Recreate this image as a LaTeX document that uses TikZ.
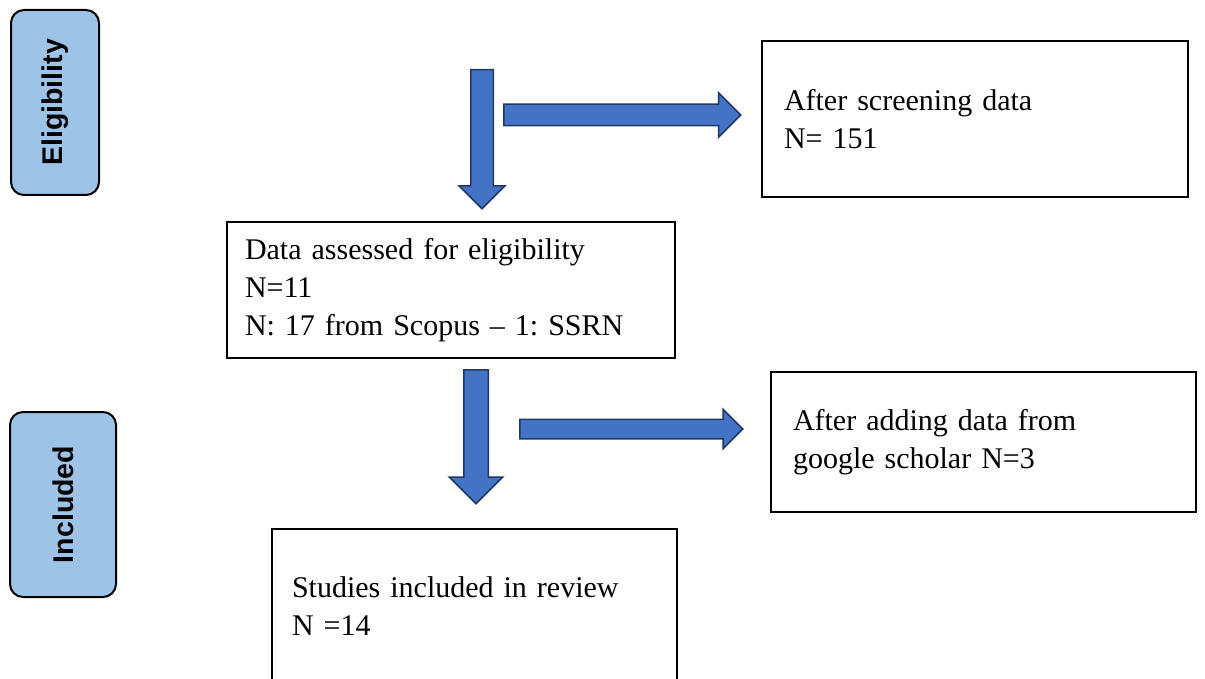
\documentclass[tikz,border=0pt]{standalone}
\usepackage{fontspec}
\setmainfont{Liberation Serif}
\newfontfamily\stagefont{Liberation Sans}
\usetikzlibrary{shapes.arrows}
\definecolor{ArrowFill}{HTML}{4472C4}
\definecolor{ArrowLine}{HTML}{1F3864}
\definecolor{StageFill}{HTML}{9DC3E6}

\begin{document}
\begin{tikzpicture} [
    x=0.5pt, y=-0.5pt,
    B/.style = {draw, line width=1pt, fill=white, align=left, font=\fontsize{15}{19}\selectfont\frenchspacing},
    S/.style = {draw, line width=1pt, fill=StageFill, rounded corners=6.5pt, rotate=90, inner sep=0pt,
                font=\stagefont\bfseries\fontsize{14.25}{17}\selectfont},
    A/.style = {single arrow, draw=ArrowLine, fill=ArrowFill, line width=0.75pt, inner xsep=0pt, anchor=tail}
    ]

  \useasboundingbox (0,0) rectangle (1205,679);

  %%% STAGES %%%
  \node[S, minimum width=92.5pt, minimum height=44pt] (eligibility) at (55,102.5) {Eligibility};
  \node[S, minimum width=92.5pt, minimum height=53pt] (included) at (63,504.5) {Included};

  %%% SCREENED %%%
  \node[B, text width=191pt, inner xsep=11pt, minimum height=78pt] (screened) at (975,119)
    {After screening data\\N= 151};

  %%% ASSESSED %%%
  \node[B, text width=206pt, inner xsep=9pt, minimum height=68pt] (assessed) at (451,290)
    {Data assessed for eligibility\\N=11\\N: 17 from Scopus -- 1: SSRN};

  %%% SCHOLAR %%%
  \node[B, text width=190.5pt, inner xsep=11pt, minimum height=70pt] (scholar) at (983.5,442)
    {After adding data from\\google scholar N=3};

  %%% STUDIES %%%
  \node[B, text width=182.5pt, inner xsep=10pt, minimum height=77pt] (studies) at (474.5,606)
    {Studies included in review\\N =14};

  % Block arrows
  \node[A, rotate=-90, inner ysep=5.25pt, minimum height=69.5pt, minimum width=22pt, single arrow head extend=5.75pt] (down1) at (482,69) {};
  \node[A, inner ysep=5pt, minimum height=118.5pt, minimum width=21.5pt, single arrow head extend=5.75pt] (right1) at (503,115) {};
  \node[A, rotate=-90, inner ysep=5.75pt, minimum height=67pt, minimum width=26pt, single arrow head extend=7.25pt] (down2) at (476,369) {};
  \node[A, inner ysep=4.5pt, minimum height=111.5pt, minimum width=19pt, single arrow head extend=5pt] (right2) at (519,429) {};

\end{tikzpicture}
\end{document}
